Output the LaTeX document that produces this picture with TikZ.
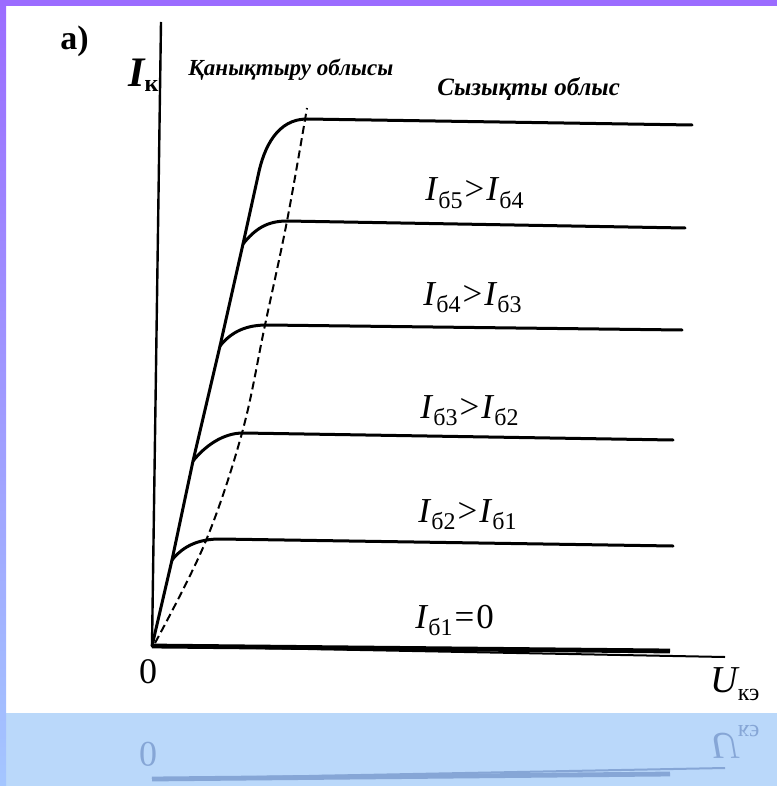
\documentclass[tikz,border=0pt]{standalone}
\usepackage{fontspec}
\setmainfont{Liberation Serif}
\usepackage{tikz}
\usetikzlibrary{positioning}
\definecolor{topband}{HTML}{9B6CFF}
\definecolor{sideband}{HTML}{A4C6FF}
\definecolor{lowband}{HTML}{BAD8FA}
\definecolor{refl}{HTML}{86A6D6}
\newcommand{\lowsub}[2][3.5pt]{\raisebox{-#1}{\fontsize{12}{12}\selectfont\upshape #2}}

\begin{document}
\begin{tikzpicture}[x=0.5pt,y=-0.5pt,
  curve/.style={line width=1.5pt,line cap=round,line join=round},
  bound/.style={line width=1pt,dash pattern=on 4pt off 2.2pt},
  cmp/.style={font=\fontsize{17.5}{20}\selectfont,inner sep=0pt,anchor=base west},
  region/.style={font=\fontsize{12.5}{15}\selectfont\bfseries\itshape,inner sep=0pt,anchor=base west}]
% frame
\useasboundingbox (0,0) rectangle (777,786);
\fill[white] (0,0) rectangle (777,786);
\fill[lowband] (0,713) rectangle (777,786);
\shade[top color=topband,bottom color=sideband] (0,0) rectangle (6,786);
\fill[topband] (0,0) rectangle (777,6);
% axes
\coordinate (O) at (152,646);
\coordinate (ytop) at (161,22);
\coordinate (xend) at (725,657);
\draw[line width=1.2pt] (O) -- (ytop);
\draw[line width=1pt] (O) -- (xend);
% knees, flats and ends
\coordinate (k1) at (172,560); \coordinate (f1) at (220,539); \coordinate (e1) at (673,546);
\coordinate (k2) at (193,461); \coordinate (f2) at (243,433); \coordinate (e2) at (673,440);
\coordinate (k3) at (220,346); \coordinate (f3) at (267,325); \coordinate (e3) at (682,330);
\coordinate (k4) at (243,244); \coordinate (f4) at (287,221); \coordinate (e4) at (685,228);
\coordinate (s5) at (258,176); \coordinate (f5) at (307,119); \coordinate (e5) at (692,125);
\coordinate (e0) at (670,651);
\draw[line width=2.4pt] (O) -- (e0);
\draw[curve] (O) -- (k1) -- (k2) -- (k3) -- (k4) -- (s5)
  .. controls (264,146) and (278,119) .. (f5) -- (e5);
\foreach \k/\f/\e in {k1/f1/e1,k2/f2/e2,k3/f3/e3,k4/f4/e4}
  \draw[curve] (\k) .. controls +(12,-15) and +(-20,0) .. (\f) -- (\e);
% saturation boundary
\draw[bound] plot[smooth,tension=0.6] coordinates
  {(155,643) (205,543) (242,433) (265,325) (287,221) (307,108)};
% labels
\node[font=\fontsize{17}{20}\selectfont\bfseries,inner sep=0pt,anchor=base west] (tag) at (60,50) {a)};
\node[font=\fontsize{21}{24}\selectfont\bfseries\itshape,inner sep=0pt,anchor=base west] (ik) at (128,87) {I\lowsub[2.5pt]{к}};
\node[region,font=\fontsize{11.5}{14}\selectfont\bfseries\itshape] (sat) at (188,76) {Қанықтыру облысы};
\node[region] (lin) at (437,96) {Сызықты облыс};
\node[cmp] (l5) at (425,201) {\textit{I}\lowsub{б5}\kern1pt>\kern1pt\textit{I}\lowsub{б4}};
\node[cmp] (l4) at (423,305) {\textit{I}\lowsub{б4}\kern1pt>\kern1pt\textit{I}\lowsub{б3}};
\node[cmp] (l3) at (420,418) {\textit{I}\lowsub{б3}\kern1pt>\kern1pt\textit{I}\lowsub{б2}};
\node[cmp] (l2) at (418,522) {\textit{I}\lowsub{б2}\kern1pt>\kern1pt\textit{I}\lowsub{б1}};
\node[cmp] (l1) at (415,628) {\textit{I}\lowsub{б1}\kern1pt=\kern1pt0};
\node[font=\fontsize{18}{20}\selectfont,inner sep=0pt,anchor=base] (zero) at (148,683) {0};
\node[font=\fontsize{19}{22}\selectfont\itshape,inner sep=0pt,anchor=base west] (ux) at (710,692) {U\lowsub[4pt]{кэ}};
% reflection in the lower band
\begin{scope}
\clip (6,713) rectangle (777,786);
\begin{scope}[shift={(0,1425)},yscale=-1,transform shape,color=refl]
\coordinate (rO) at (152,646);
\coordinate (rx) at (725,657);
\coordinate (r0) at (670,651);
\draw[line width=1pt] (rO) -- (rx);
\draw[line width=2.4pt] (rO) -- (r0);
\node[font=\fontsize{18}{20}\selectfont,inner sep=0pt,anchor=base] (rzero) at (148,683) {0};
\node[font=\fontsize{19}{22}\selectfont\itshape,inner sep=0pt,anchor=base west] (rux) at (710,692) {U\lowsub[4pt]{кэ}};
\end{scope}
\end{scope}
\end{tikzpicture}
\end{document}
